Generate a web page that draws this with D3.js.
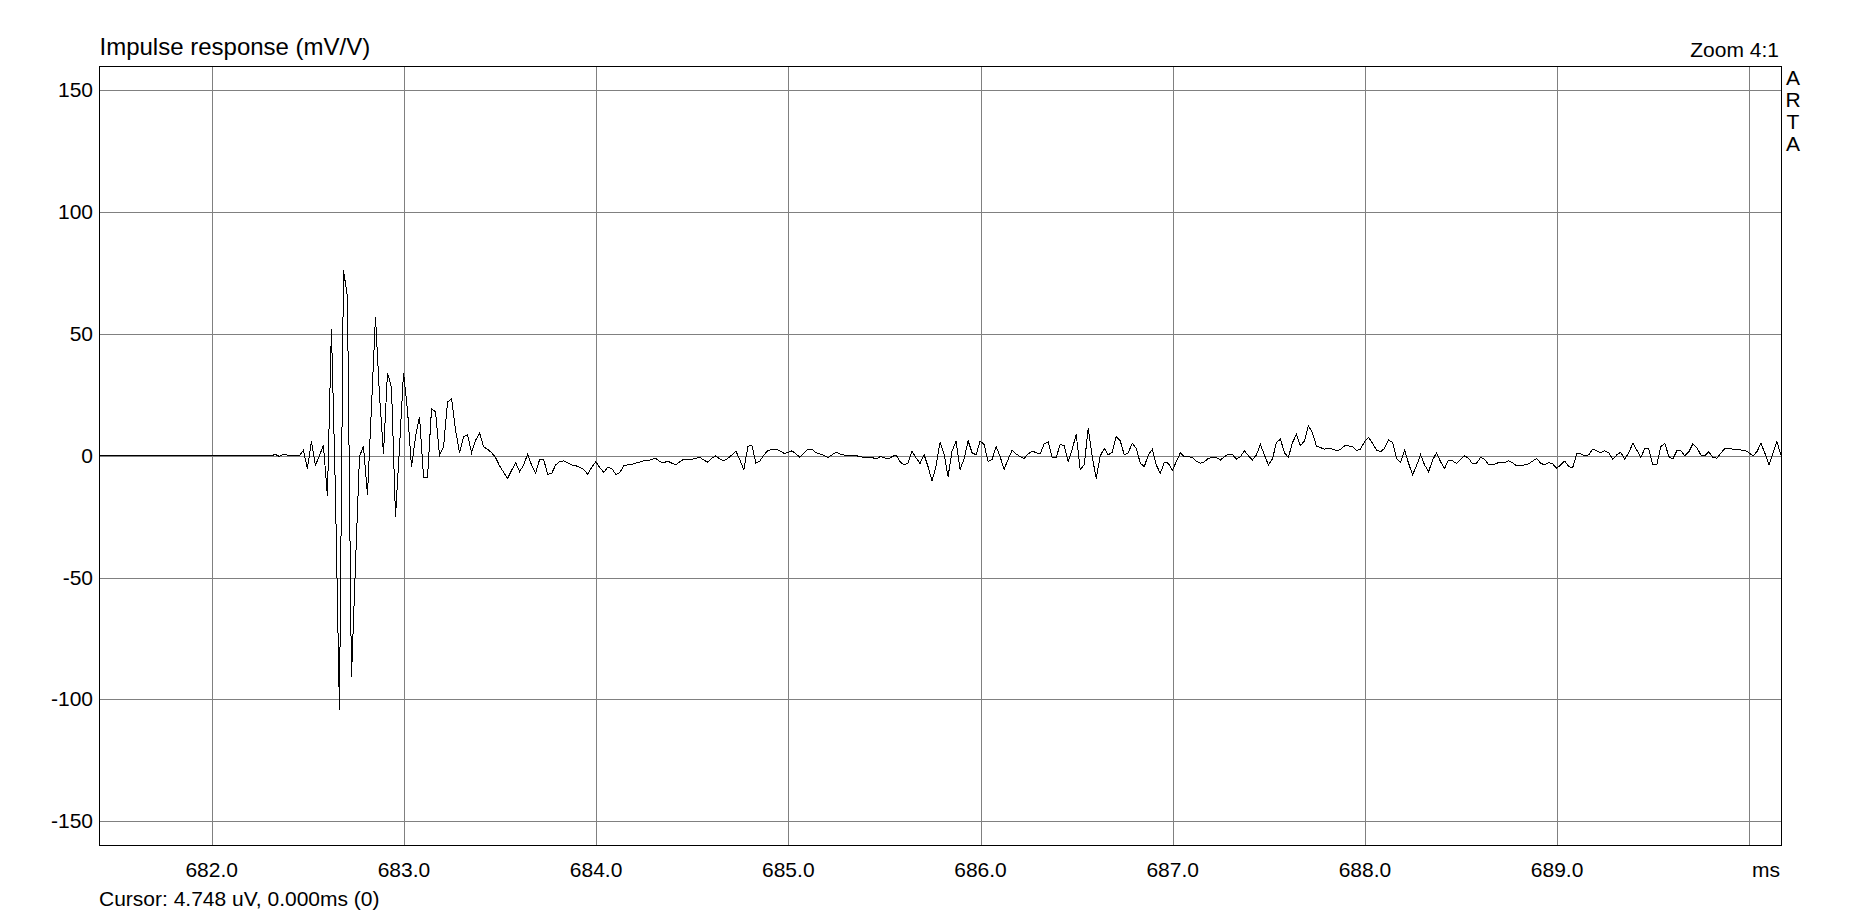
<!DOCTYPE html>
<html><head><meta charset="utf-8">
<script src="https://cdn.jsdelivr.net/npm/d3@7"></script>
<style>
body{margin:0;background:#fff}
svg{display:block}
text{font-family:Arial,"Liberation Sans",sans-serif;fill:#000}
</style>
</head><body>
<svg id="chart" width="1853" height="917"></svg>
<script>
// ---- chart texts ----
const titleText = "Impulse response (mV/V)";
const zoomText = "Zoom 4:1";
const brandLetters = ["A", "R", "T", "A"];
const cursorText = "Cursor: 4.748 uV, 0.000ms (0)";
const xUnitText = "ms";

// ---- axes ----
const xDomain = [681.4162, 690.1675];
const yDomain = [-159.93, 159.64];
const xTicks = [682, 683, 684, 685, 686, 687, 688, 689, 690];
const xTickLabels = ["682.0", "683.0", "684.0", "685.0", "686.0", "687.0", "688.0", "689.0", ""];
const yTicks = [-150, -100, -50, 0, 50, 100, 150];
const yTickLabels = ["-150", "-100", "-50", "0", "50", "100", "150"];

// ---- series: impulse response samples (mV/V), 48 kHz ----
const sampleRateKHz = 48;
const startTimeMs = 681.41458;
const impulse = [
  0,0,0,0,0,0,0,0,0,0, 0,0,0,0,0,0,0,0,0,0,
  0,0,0,0,0,0,0,0,0,0, 0,0,0,0,0,0,0,0,0,0,
  0,0,0,0,
  0.5,-0.3,0.5,0.2,0,0,0,2.2,-5.3,5.9,
  -4.0,0,4.2,-16.5,52.1,-15,-104.5,76.3,65,-91,
  -45,-0.5,4,-16,20,57,25,0.8,34,28,
  -25,3.5,34,18.6,-4.7,7.7,15.9,-8.8,-8.8,19.3,
  17.9,0.1,3.6,22,23.4,10.4,1.2,7.7,8.6,1.2,
  6.3,9.3,3.6,2.6,1.2,-0.8,-4.2,-6.8,-9.3,-6,
  -2.9,-6.6,-3.8,0.6,-3.9,-7.2,-1.5,-1.5,-7.7,-7.3,
  -3.8,-2.5,-2.1,-2.9,-3.8,-4.1,-4.8,-5.6,-7.7,-4.8,
  -2.5,-4.8,-6.9,-4.8,-5.2,-7.7,-7,-4.2,-3.8,-3.6,
  -3.1,-2.6,-2.1,-2.1,-1.5,-1.1,-2.5,-2.9,-2.2,-3.1,
  -3.8,-2.5,-1.4,-1.4,-1.5,-1.1,-0.7,-1.8,-2.7,-1.1,
  -0.1,-1.4,-2.2,-1.1,0.3,1.9,-1.8,-5.9,3.7,4.4,
  -3.1,-2.2,0.3,2.0,2.6,2.7,1.9,1,1.2,2,
  0.7,-0.7,1,2.7,2.6,1.2,0.7,0.1,-0.8,0.3,
  1.4,0.7,0.3,0,0,0,-0.4,-0.8,-0.7,-0.7,
  -1.4,-0.4,-0.8,-1.4,-0.4,0.3,-2.5,-3.8,-3.0,1.9,
  -0.9,-3.2,0.4,-4.5,-10.4,-4.2,5.5,0.7,-8.6,1.9,
  6,-5.6,-1.4,6.1,1.2,0.3,6,4.6,-2.5,-1.5,
  3.7,-0.4,-5.6,-1.5,2.3,0.7,-0.4,-1.1,0.7,1.9,
  1.2,0.7,4.8,5.7,-0.7,-0.7,4.6,4.1,-2.5,2.6,
  8.7,-5.6,-3.8,11.2,-0.4,-9.4,-0.1,3,0.3,1.4,
  7.8,6.1,0.3,1.2,5.1,3,-3.1,-4.5,0.3,2.6,
  -3.8,-7.3,-2.7,-3.1,-6.1,-2.5,1.2,-0.4,-0.4,-0.8,
  -2.2,-3.1,-2.5,-1.1,-0.7,-0.7,-1.8,-0.4,0.5,0.5,
  -1.4,-0.4,2,0,-1.8,0.3,4.6,0.3,-3.8,-1.4,
  5.3,6.8,1.2,-0.7,5.3,8.7,4.1,6,12.3,9.4,
  3.9,3.3,2.7,3,2.7,2,2.5,4,4,3.7,
  2.0,2.7,5.7,7.5,5.1,2.3,1.6,3,6.4,5.5,
  -1.1,-2.7,2.3,-3.1,-7.9,-4.1,0.4,-3.8,-6.6,-1.8,
  1.2,-2.5,-5.2,-1.8,-2.1,-3.3,-1.5,-0.1,-1.1,-3.4,
  -3.1,-0.7,-1.5,-3.8,-3.8,-3.1,-2.7,-2.9,-2.1,-2.9,
  -4.2,-4.2,-3.8,-3.4,-2.2,-1.1,-3.1,-3.8,-2.9,-3.4,
  -5.2,-3.8,-2.2,-4.5,-4.9,0.7,0.7,-0.1,0.3,2.7,
  2.0,1.2,2.0,1.2,-1.5,0.3,1.4,-1.5,1.2,5.1,
  2.3,-0.8,3,2.7,-3.8,-3.8,3.7,5.1,-0.4,-1.4,
  2.0,2.0,-0.1,1.6,4.8,3.3,0.3,-0.1,1.6,-0.7,
  -1.1,1.0,3.0,3.1,2.6,2.5,2.3,2.2,1.2,-0.1,
  1.6,5.1,1.0,-3.8,1.0,5.7,0.3,-3.1,-5.2
];

// ---- drawing ----
const svg = d3.select("#chart");
const L = 99.5, R = 1781.5, T = 66.5, B = 845.5;
const x = d3.scaleLinear().domain(xDomain).range([L, R]);
const y = d3.scaleLinear().domain(yDomain).range([B, T]);

svg.append("defs").append("clipPath").attr("id", "plotclip")
  .append("rect").attr("x", L).attr("y", T).attr("width", R - L).attr("height", B - T);

const grid = svg.append("g").attr("stroke", "#808080").attr("stroke-width", 1)
  .attr("shape-rendering", "crispEdges");
grid.selectAll("line.v").data(xTicks).join("line").attr("class", "v")
  .attr("x1", d => Math.round(x(d)) + 0.5).attr("x2", d => Math.round(x(d)) + 0.5)
  .attr("y1", T).attr("y2", B);
grid.selectAll("line.h").data(yTicks).join("line").attr("class", "h")
  .attr("y1", d => Math.round(y(d)) + 0.5).attr("y2", d => Math.round(y(d)) + 0.5)
  .attr("x1", L).attr("x2", R);

const line = d3.line()
  .x((d, i) => x(startTimeMs + i / sampleRateKHz))
  .y(d => y(d));
svg.append("path").datum(impulse)
  .attr("clip-path", "url(#plotclip)")
  .attr("fill", "none").attr("stroke", "#000").attr("stroke-width", 1)
  .attr("stroke-linejoin", "miter")
  .attr("shape-rendering", "crispEdges")
  .attr("d", line);

svg.append("rect").attr("x", L).attr("y", T).attr("width", R - L).attr("height", B - T)
  .attr("fill", "none").attr("stroke", "#000").attr("stroke-width", 1)
  .attr("shape-rendering", "crispEdges");

// y tick labels
svg.append("g").selectAll("text").data(yTicks).join("text")
  .attr("x", 93).attr("y", d => y(d) + 7)
  .attr("text-anchor", "end").attr("font-size", 21)
  .text((d, i) => yTickLabels[i]);

// x tick labels
svg.append("g").selectAll("text").data(xTicks).join("text")
  .attr("x", d => x(d)).attr("y", 877)
  .attr("text-anchor", "middle").attr("font-size", 21)
  .text((d, i) => xTickLabels[i]);

svg.append("text").attr("x", 1780).attr("y", 877).attr("text-anchor", "end")
  .attr("font-size", 21).text(xUnitText);

svg.append("text").attr("x", 99.5).attr("y", 55).attr("font-size", 24).text(titleText);
svg.append("text").attr("x", 1779).attr("y", 57).attr("text-anchor", "end")
  .attr("font-size", 21).text(zoomText);

svg.append("g").selectAll("text").data(brandLetters).join("text")
  .attr("x", 1793).attr("y", (d, i) => 85 + i * 22)
  .attr("text-anchor", "middle").attr("font-size", 21).text(d => d);

svg.append("text").attr("x", 99).attr("y", 906).attr("font-size", 21).text(cursorText);
</script>
</body></html>
